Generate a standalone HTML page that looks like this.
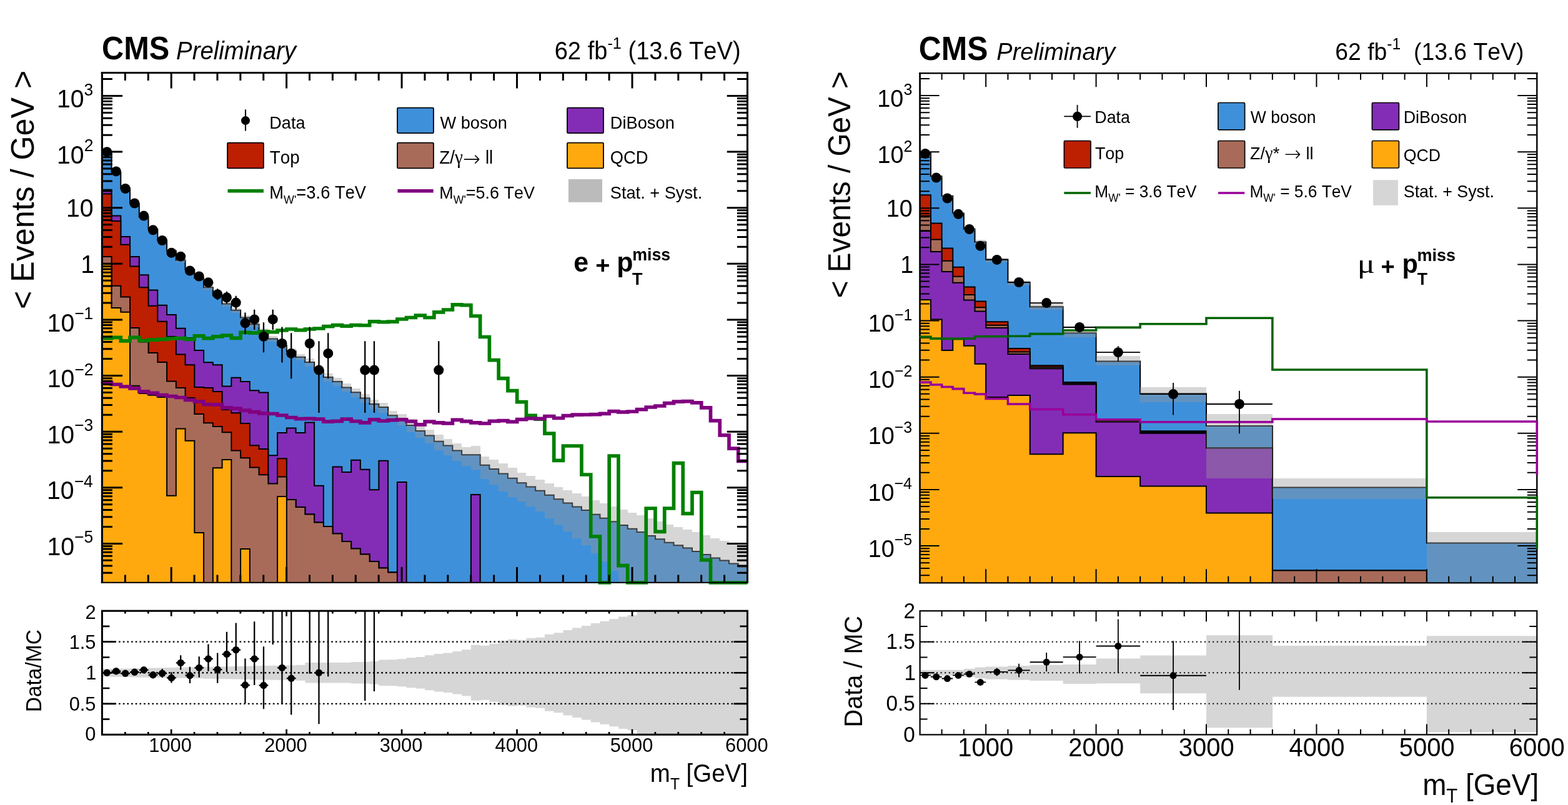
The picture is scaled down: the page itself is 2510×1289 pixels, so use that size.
<!DOCTYPE html>
<html><head><meta charset="utf-8"><title>CMS W' search: transverse mass distributions</title>
<style>html,body{margin:0;padding:0;background:#fff}svg{display:block}text{white-space:pre}</style></head>
<body>
<svg width="2510" height="1289" viewBox="0 0 2510 1289" font-family="'Liberation Sans', sans-serif" fill="#000" stroke-linejoin="miter" style="font-kerning:none" xml:space="preserve">
<rect width="2510" height="1289" fill="#fff"/>
<clipPath id="clipL"><rect x="163.4" y="116.5" width="1033.05" height="817"/></clipPath>
<clipPath id="clipsL"><rect x="159.4" y="116.5" width="1041.05" height="821.5"/></clipPath>
<path d="M163.4 933.8V115" fill="none" stroke="#000" stroke-width="3"/><path d="M1196.45 933.8V115" fill="none" stroke="#000" stroke-width="3"/><path d="M161.9 116.5H1197.95" fill="none" stroke="#000" stroke-width="3"/><path d="M161.9 932.8H1197.95" fill="none" stroke="#000" stroke-width="2"/>
<g clip-path="url(#clipL)">
<path d="M163.8 936L163.8 242.6L178.55 242.6L178.55 275.4L193.31 275.4L193.31 301.6L208.06 301.6L208.06 325.9L222.81 325.9L222.81 347.3L237.56 347.3L237.56 366.9L252.32 366.9L252.32 384.6L267.07 384.6L267.07 401.4L281.82 401.4L281.82 416.5L296.58 416.5L296.58 431.7L311.33 431.7L311.33 445.5L326.08 445.5L326.08 460.2L340.83 460.2L340.83 473.2L355.59 473.2L355.59 486.5L370.34 486.5L370.34 496.8L385.09 496.8L385.09 508.6L399.85 508.6L399.85 519.3L414.6 519.3L414.6 529.9L429.35 529.9L429.35 542.6L444.1 542.6L444.1 553L458.86 553L458.86 562.2L473.61 562.2L473.61 571.8L488.36 571.8L488.36 580L503.12 580L503.12 592.6L517.87 592.6L517.87 603.9L532.62 603.9L532.62 611L547.37 611L547.37 620.4L562.13 620.4L562.13 628.3L576.88 628.3L576.88 637.5L591.63 637.5L591.63 647L606.39 647L606.39 652L621.14 652L621.14 665.2L635.89 665.2L635.89 671L650.65 671L650.65 681L665.4 681L665.4 689.9L680.15 689.9L680.15 697.5L694.9 697.5L694.9 706.7L709.66 706.7L709.66 713.5L724.41 713.5L724.41 721.6L739.16 721.6L739.16 728.3L753.92 728.3L768.67 728.3L768.67 744.7L783.42 744.7L783.42 751L798.17 751L798.17 758.5L812.93 758.5L812.93 765.8L827.68 765.8L827.68 773.3L842.43 773.3L842.43 779.4L857.19 779.4L857.19 785.8L871.94 785.8L871.94 792.8L886.69 792.8L886.69 799.3L901.44 799.3L901.44 805.5L916.2 805.5L916.2 811.6L930.95 811.6L930.95 817.1L945.7 817.1L945.7 823.8L960.46 823.8L960.46 829.7L975.21 829.7L975.21 835.2L989.96 835.2L989.96 841.1L1004.71 841.1L1004.71 846.8L1019.47 846.8L1019.47 852L1034.22 852L1034.22 857.9L1048.97 857.9L1048.97 863.2L1063.73 863.2L1063.73 868.8L1078.48 868.8L1078.48 873.3L1093.23 873.3L1093.23 877.5L1107.98 877.5L1107.98 883L1122.74 883L1122.74 888L1137.49 888L1137.49 893.4L1152.24 893.4L1152.24 897.6L1167 897.6L1167 902.6L1181.75 902.6L1181.75 907.6L1196.5 907.6L1196.5 936Z" fill="#3f90da" stroke="#000" stroke-width="2"/>
<path d="M163.8 936L163.8 303.7L178.55 303.7L178.55 345.6L193.31 345.6L193.31 379L208.06 379L208.06 411L222.81 411L222.81 440.2L237.56 440.2L237.56 464.5L252.32 464.5L252.32 488.8L267.07 488.8L267.07 503.9L281.82 503.9L281.82 525.7L296.58 525.7L296.58 541L311.33 541L311.33 560.9L326.08 560.9L326.08 580.2L340.83 580.2L340.83 584.3L355.59 584.3L355.59 618.5L370.34 618.5L370.34 604.8L385.09 604.8L385.09 611L399.85 611L399.85 625.2L414.6 625.2L414.6 628.6L429.35 628.6L429.35 729.2L444.1 729.2L444.1 693.1L458.86 693.1L458.86 685.6L473.61 685.6L473.61 693L488.36 693L488.36 676.4L503.12 676.4L503.12 777.8L517.87 777.8L517.87 843L532.62 843L532.62 747.6L547.37 747.6L547.37 756L562.13 756L562.13 736.7L576.88 736.7L576.88 751.7L591.63 751.7L591.63 784.3L606.39 784.3L606.39 737.8L621.14 737.8L621.14 916.5L635.89 916.5L635.89 771.9L650.65 771.9L650.65 936L665.4 936L680.15 936L694.9 936L709.66 936L724.41 936L739.16 936L753.92 936L753.92 792L768.67 792L768.67 936L783.42 936L798.17 936L812.93 936L827.68 936L842.43 936L857.19 936L871.94 936L886.69 936L901.44 936L916.2 936L930.95 936L945.7 936L960.46 936L975.21 936L989.96 936L1004.71 936L1019.47 936L1034.22 936L1048.97 936L1063.73 936L1078.48 936L1093.23 936L1107.98 936L1122.74 936L1137.49 936L1152.24 936L1167 936L1181.75 936L1196.5 936Z" fill="#832db6" stroke="#000" stroke-width="2"/>
<path d="M163.8 936L163.8 310.4L178.55 310.4L178.55 354L193.31 354L193.31 391.7L208.06 391.7L208.06 426.5L222.81 426.5L222.81 460.3L237.56 460.3L237.56 489.7L252.32 489.7L252.32 514.8L267.07 514.8L267.07 539L281.82 539L281.82 567.6L296.58 567.6L296.58 584.3L311.33 584.3L311.33 620L326.08 620L326.08 621L340.83 621L340.83 627L355.59 627L355.59 656L370.34 656L370.34 661.3L385.09 661.3L385.09 678L399.85 678L399.85 713.2L414.6 713.2L414.6 719L429.35 719L429.35 774.4L444.1 774.4L444.1 734.2L458.86 734.2L458.86 800L473.61 800L473.61 812L488.36 812L488.36 823.5L503.12 823.5L503.12 836.6L517.87 836.6L517.87 843L532.62 843L532.62 854.5L547.37 854.5L547.37 867L562.13 867L562.13 878.5L576.88 878.5L576.88 887.5L591.63 887.5L591.63 899L606.39 899L606.39 909.5L621.14 909.5L621.14 916.5L635.89 916.5L635.89 936L650.65 936L665.4 936L680.15 936L694.9 936L709.66 936L724.41 936L739.16 936L753.92 936L768.67 936L783.42 936L798.17 936L812.93 936L827.68 936L842.43 936L857.19 936L871.94 936L886.69 936L901.44 936L916.2 936L930.95 936L945.7 936L960.46 936L975.21 936L989.96 936L1004.71 936L1019.47 936L1034.22 936L1048.97 936L1063.73 936L1078.48 936L1093.23 936L1107.98 936L1122.74 936L1137.49 936L1152.24 936L1167 936L1181.75 936L1196.5 936Z" fill="#bd1f01" stroke="#000" stroke-width="2"/>
<path d="M163.8 936L163.8 411L178.55 411L178.55 457.8L193.31 457.8L193.31 475.4L208.06 475.4L208.06 524.9L222.81 524.9L222.81 547.5L237.56 547.5L237.56 565L252.32 565L252.32 580L267.07 580L267.07 610.6L281.82 610.6L281.82 621L296.58 621L296.58 637L311.33 637L311.33 663L326.08 663L326.08 677.2L340.83 677.2L340.83 683L355.59 683L355.59 692.3L370.34 692.3L370.34 721.6L385.09 721.6L385.09 733.3L399.85 733.3L399.85 748.4L414.6 748.4L414.6 760.2L429.35 760.2L429.35 774.4L444.1 774.4L444.1 763.5L458.86 763.5L458.86 800L473.61 800L473.61 812L488.36 812L488.36 823.5L503.12 823.5L503.12 836.6L517.87 836.6L517.87 843L532.62 843L532.62 854.5L547.37 854.5L547.37 867L562.13 867L562.13 878.5L576.88 878.5L576.88 887.5L591.63 887.5L591.63 899L606.39 899L606.39 909.5L621.14 909.5L621.14 916.5L635.89 916.5L635.89 936L650.65 936L665.4 936L680.15 936L694.9 936L709.66 936L724.41 936L739.16 936L753.92 936L768.67 936L783.42 936L798.17 936L812.93 936L827.68 936L842.43 936L857.19 936L871.94 936L886.69 936L901.44 936L916.2 936L930.95 936L945.7 936L960.46 936L975.21 936L989.96 936L1004.71 936L1019.47 936L1034.22 936L1048.97 936L1063.73 936L1078.48 936L1093.23 936L1107.98 936L1122.74 936L1137.49 936L1152.24 936L1167 936L1181.75 936L1196.5 936Z" fill="#a96b59" stroke="#000" stroke-width="2"/>
<path d="M163.8 936L163.8 423L178.55 423L178.55 493L193.31 493L193.31 499.7L208.06 499.7L208.06 617.7L222.81 617.7L222.81 630L237.56 630L237.56 632.8L252.32 632.8L252.32 636L267.07 636L267.07 793.7L281.82 793.7L281.82 686.4L296.58 686.4L296.58 705.7L311.33 705.7L311.33 853L326.08 853L326.08 936L340.83 936L340.83 749.3L355.59 749.3L355.59 735.9L370.34 735.9L370.34 936L385.09 936L385.09 879L399.85 879L399.85 936L414.6 936L429.35 936L444.1 936L444.1 795L458.86 795L458.86 936L473.61 936L488.36 936L503.12 936L517.87 936L532.62 936L547.37 936L562.13 936L576.88 936L591.63 936L606.39 936L621.14 936L635.89 936L650.65 936L665.4 936L680.15 936L694.9 936L709.66 936L724.41 936L739.16 936L753.92 936L768.67 936L783.42 936L798.17 936L812.93 936L827.68 936L842.43 936L857.19 936L871.94 936L886.69 936L901.44 936L916.2 936L930.95 936L945.7 936L960.46 936L975.21 936L989.96 936L1004.71 936L1019.47 936L1034.22 936L1048.97 936L1063.73 936L1078.48 936L1093.23 936L1107.98 936L1122.74 936L1137.49 936L1152.24 936L1167 936L1181.75 936L1196.5 936Z" fill="#ffa90e" stroke="#000" stroke-width="2"/>
<path d="M163.8 240.22H178.55V245.13H163.8ZM178.55 272.91H193.31V278.06H178.55ZM193.31 299H208.06V304.38H193.31ZM208.06 323.19H222.81V328.81H208.06ZM222.81 344.49H237.56V350.33H222.81ZM237.56 363.98H252.32V370.06H237.56ZM252.32 381.6H267.07V387.84H252.32ZM267.07 398.3H281.82V404.77H267.07ZM281.82 413.29H296.58V420H281.82ZM296.58 428.38H311.33V435.33H296.58ZM311.33 442.07H326.08V449.26H311.33ZM326.08 456.67H340.83V464.08H326.08ZM340.83 469.56H355.59V477.21H340.83ZM355.59 482.76H370.34V490.64H355.59ZM370.34 492.95H385.09V501.07H370.34ZM385.09 504.64H399.85V513H385.09ZM399.85 515.24H414.6V523.84H399.85ZM414.6 525.73H429.35V534.57H414.6ZM429.35 538.33H444.1V547.4H429.35ZM444.1 548.62H458.86V557.93H444.1ZM458.86 557.72H473.61V567.26H458.86ZM473.61 567.22H488.36V577H473.61ZM488.36 574.06H503.12V587.02H488.36ZM503.12 586.66H517.87V599.62H503.12ZM517.87 597.96H532.62V610.92H517.87ZM532.62 605.06H547.37V618.02H532.62ZM547.37 614.46H562.13V627.42H547.37ZM562.13 622.02H576.88V635.79H562.13ZM576.88 631.22H591.63V644.99H576.88ZM591.63 640.39H606.39V654.96H591.63ZM606.39 644.58H621.14V661.17H606.39ZM621.14 657.69H635.89V674.52H621.14ZM635.89 663.17H650.65V680.82H635.89ZM650.65 672.53H665.4V691.83H650.65ZM665.4 681.03H680.15V701.41H665.4ZM680.15 687.8H694.9V710.45H680.15ZM694.9 696.34H709.66V720.86H694.9ZM709.66 702.7H724.41V728.51H709.66ZM724.41 710.04H739.16V738.13H724.41ZM739.16 715.96H753.92V746.47H739.16ZM753.92 713.87H768.67V751.5H753.92ZM768.67 730.51H783.42V767.26H768.67ZM783.42 736.01H798.17V775.71H783.42ZM798.17 742.2H812.93V787.06H798.17ZM812.93 749H827.68V796.02H812.93ZM827.68 756.75H842.43V802.68H827.68ZM842.43 762.09H857.19V811.35H842.43ZM857.19 768.25H871.94V818.64H857.19ZM871.94 774.03H886.69V830.46H871.94ZM886.69 779.93H901.44V839.6H886.69ZM901.44 785.08H916.2V851.08H901.44ZM916.2 790.38H930.95V861.84H916.2ZM930.95 795.1H945.7V872.64H930.95ZM945.7 800.93H960.46V886.43H945.7ZM960.46 806.14H975.21V899.12H960.46ZM975.21 810.88H989.96V914.01H975.21ZM989.96 815.98H1004.71V933H989.96ZM1004.71 821.21H1019.47V933H1004.71ZM1019.47 825.02H1034.22V933H1019.47ZM1034.22 830.15H1048.97V933H1034.22ZM1048.97 834.7H1063.73V933H1048.97ZM1063.73 840.3H1078.48V933H1063.73ZM1078.48 843.97H1093.23V933H1078.48ZM1093.23 847.76H1107.98V933H1093.23ZM1107.98 852.26H1122.74V933H1107.98ZM1122.74 856.96H1137.49V933H1122.74ZM1137.49 862.36H1152.24V933H1137.49ZM1152.24 866.16H1167V933H1152.24ZM1167 871.56H1181.75V933H1167ZM1181.75 875.77H1196.5V933H1181.75Z" fill="#999" fill-opacity="0.4" shape-rendering="crispEdges"/>
</g>
<g clip-path="url(#clipsL)" fill="none">
<path d="M161.8 541.6L163.8 541.6L178.55 541.6L178.55 540.4L193.31 540.4L193.31 545.8L208.06 545.8L208.06 540.4L222.81 540.4L222.81 545.5L237.56 545.5L237.56 544.1L252.32 544.1L252.32 543.3L267.07 543.3L267.07 542.1L281.82 542.1L281.82 541.6L296.58 541.6L296.58 543.3L311.33 543.3L311.33 537.8L326.08 537.8L326.08 541.6L340.83 541.6L340.83 538.8L355.59 538.8L355.59 537.1L370.34 537.1L370.34 541.3L385.09 541.3L385.09 532.4L399.85 532.4L399.85 533.2L414.6 533.2L414.6 530.8L429.35 530.8L429.35 531.6L444.1 531.6L444.1 529L458.86 529L458.86 527L473.61 527L473.61 528.6L488.36 528.6L488.36 527L503.12 527L503.12 526L517.87 526L517.87 522.7L532.62 522.7L532.62 520.6L547.37 520.6L547.37 522.2L562.13 522.2L562.13 520.6L576.88 520.6L576.88 521L591.63 521L591.63 514.9L606.39 514.9L606.39 515.7L621.14 515.7L621.14 515.2L635.89 515.2L635.89 511L650.65 511L650.65 508.5L665.4 508.5L665.4 505.1L680.15 505.1L680.15 508.5L694.9 508.5L694.9 499.8L709.66 499.8L709.66 496L724.41 496L724.41 487.9L739.16 487.9L739.16 488.7L753.92 488.7L753.92 506L768.67 506L768.67 539.5L783.42 539.5L783.42 576.7L798.17 576.7L798.17 605.9L812.93 605.9L812.93 625.6L827.68 625.6L827.68 643.6L842.43 643.6L842.43 665.4L857.19 665.4L857.19 671.2L871.94 671.2L871.94 694.2L886.69 694.2L886.69 737.4L901.44 737.4L901.44 714L930.95 714L930.95 760L945.7 760L945.7 859L960.46 859L960.46 933L975.21 933L975.21 730L989.96 730L989.96 905.7L1004.71 905.7L1004.71 933L1034.22 933L1034.22 814L1048.97 814L1048.97 851.4L1063.73 851.4L1063.73 814L1078.48 814L1078.48 741.6L1093.23 741.6L1093.23 822.3L1107.98 822.3L1107.98 788.5L1122.74 788.5L1122.74 896.7L1137.49 896.7L1137.49 933L1196.5 933" stroke="#008000" stroke-width="5.7"/>
<path d="M161.8 612.7L163.8 612.7L178.55 612.7L178.55 615.5L193.31 615.5L193.31 619L208.06 619L208.06 621.9L222.81 621.9L222.81 626.9L237.56 626.9L237.56 629.4L252.32 629.4L252.32 632.5L267.07 632.5L267.07 634.5L281.82 634.5L281.82 636.5L296.58 636.5L296.58 640.3L311.33 640.3L311.33 643.2L326.08 643.2L326.08 647.5L340.83 647.5L340.83 647.9L355.59 647.9L355.59 652.9L370.34 652.9L370.34 654.2L385.09 654.2L385.09 657.1L399.85 657.1L399.85 659.6L414.6 659.6L414.6 661.8L429.35 661.8L429.35 662.5L444.1 662.5L444.1 665L458.86 665L458.86 668.5L473.61 668.5L473.61 670.7L488.36 670.7L488.36 670.3L503.12 670.3L503.12 671.2L517.87 671.2L517.87 675.1L532.62 675.1L532.62 674.4L547.37 674.4L547.37 671.1L562.13 671.1L562.13 674.5L576.88 674.5L576.88 676.9L591.63 676.9L591.63 671.9L606.39 671.9L606.39 674L621.14 674L621.14 672.7L635.89 672.7L635.89 671.9L650.65 671.9L650.65 674.7L665.4 674.7L665.4 679.8L680.15 679.8L680.15 675.2L694.9 675.2L694.9 676.9L709.66 676.9L709.66 677.8L724.41 677.8L724.41 672.4L739.16 672.4L739.16 674.7L753.92 674.7L753.92 676.9L768.67 676.9L768.67 678L783.42 678L783.42 674.3L798.17 674.3L798.17 673.7L812.93 673.7L812.93 675.4L827.68 675.4L827.68 671.7L842.43 671.7L842.43 670L857.19 670L857.19 670.4L871.94 670.4L871.94 666.5L886.69 666.5L886.69 669.5L901.44 669.5L901.44 665.7L916.2 665.7L916.2 664.2L930.95 664.2L930.95 664L945.7 664L945.7 663.7L960.46 663.7L960.46 662.3L975.21 662.3L975.21 658.7L989.96 658.7L989.96 659.8L1004.71 659.8L1004.71 659L1019.47 659L1019.47 655.6L1034.22 655.6L1034.22 652L1048.97 652L1048.97 650L1063.73 650L1063.73 645.7L1078.48 645.7L1078.48 643.2L1093.23 643.2L1093.23 642.7L1107.98 642.7L1107.98 644.9L1122.74 644.9L1122.74 652.8L1137.49 652.8L1137.49 673.7L1152.24 673.7L1152.24 696.9L1167 696.9L1167 718.1L1181.75 718.1L1181.75 738.3L1196.5 738.3" stroke="#800080" stroke-width="5.7"/>
</g>
<path d="M163.4 917.24h16.5M1196.45 917.24h-16.5M163.4 906.04h16.5M1196.45 906.04h-16.5M163.4 897.36h16.5M1196.45 897.36h-16.5M163.4 890.26h16.5M1196.45 890.26h-16.5M163.4 884.26h16.5M1196.45 884.26h-16.5M163.4 879.06h16.5M1196.45 879.06h-16.5M163.4 874.48h16.5M1196.45 874.48h-16.5M163.4 870.38h32.7M1196.45 870.38h-32.7M163.4 843.4h16.5M1196.45 843.4h-16.5M163.4 827.63h16.5M1196.45 827.63h-16.5M163.4 816.43h16.5M1196.45 816.43h-16.5M163.4 807.75h16.5M1196.45 807.75h-16.5M163.4 800.65h16.5M1196.45 800.65h-16.5M163.4 794.65h16.5M1196.45 794.65h-16.5M163.4 789.45h16.5M1196.45 789.45h-16.5M163.4 784.87h16.5M1196.45 784.87h-16.5M163.4 780.77h32.7M1196.45 780.77h-32.7M163.4 753.79h16.5M1196.45 753.79h-16.5M163.4 738.02h16.5M1196.45 738.02h-16.5M163.4 726.82h16.5M1196.45 726.82h-16.5M163.4 718.14h16.5M1196.45 718.14h-16.5M163.4 711.04h16.5M1196.45 711.04h-16.5M163.4 705.04h16.5M1196.45 705.04h-16.5M163.4 699.84h16.5M1196.45 699.84h-16.5M163.4 695.26h16.5M1196.45 695.26h-16.5M163.4 691.16h32.7M1196.45 691.16h-32.7M163.4 664.18h16.5M1196.45 664.18h-16.5M163.4 648.41h16.5M1196.45 648.41h-16.5M163.4 637.21h16.5M1196.45 637.21h-16.5M163.4 628.53h16.5M1196.45 628.53h-16.5M163.4 621.43h16.5M1196.45 621.43h-16.5M163.4 615.43h16.5M1196.45 615.43h-16.5M163.4 610.23h16.5M1196.45 610.23h-16.5M163.4 605.65h16.5M1196.45 605.65h-16.5M163.4 601.55h32.7M1196.45 601.55h-32.7M163.4 574.57h16.5M1196.45 574.57h-16.5M163.4 558.8h16.5M1196.45 558.8h-16.5M163.4 547.6h16.5M1196.45 547.6h-16.5M163.4 538.92h16.5M1196.45 538.92h-16.5M163.4 531.82h16.5M1196.45 531.82h-16.5M163.4 525.82h16.5M1196.45 525.82h-16.5M163.4 520.62h16.5M1196.45 520.62h-16.5M163.4 516.04h16.5M1196.45 516.04h-16.5M163.4 511.94h32.7M1196.45 511.94h-32.7M163.4 484.96h16.5M1196.45 484.96h-16.5M163.4 469.19h16.5M1196.45 469.19h-16.5M163.4 457.99h16.5M1196.45 457.99h-16.5M163.4 449.31h16.5M1196.45 449.31h-16.5M163.4 442.21h16.5M1196.45 442.21h-16.5M163.4 436.21h16.5M1196.45 436.21h-16.5M163.4 431.01h16.5M1196.45 431.01h-16.5M163.4 426.43h16.5M1196.45 426.43h-16.5M163.4 422.33h32.7M1196.45 422.33h-32.7M163.4 395.35h16.5M1196.45 395.35h-16.5M163.4 379.58h16.5M1196.45 379.58h-16.5M163.4 368.38h16.5M1196.45 368.38h-16.5M163.4 359.7h16.5M1196.45 359.7h-16.5M163.4 352.6h16.5M1196.45 352.6h-16.5M163.4 346.6h16.5M1196.45 346.6h-16.5M163.4 341.4h16.5M1196.45 341.4h-16.5M163.4 336.82h16.5M1196.45 336.82h-16.5M163.4 332.72h32.7M1196.45 332.72h-32.7M163.4 305.74h16.5M1196.45 305.74h-16.5M163.4 289.97h16.5M1196.45 289.97h-16.5M163.4 278.77h16.5M1196.45 278.77h-16.5M163.4 270.09h16.5M1196.45 270.09h-16.5M163.4 262.99h16.5M1196.45 262.99h-16.5M163.4 256.99h16.5M1196.45 256.99h-16.5M163.4 251.79h16.5M1196.45 251.79h-16.5M163.4 247.21h16.5M1196.45 247.21h-16.5M163.4 243.11h32.7M1196.45 243.11h-32.7M163.4 216.13h16.5M1196.45 216.13h-16.5M163.4 200.36h16.5M1196.45 200.36h-16.5M163.4 189.16h16.5M1196.45 189.16h-16.5M163.4 180.48h16.5M1196.45 180.48h-16.5M163.4 173.38h16.5M1196.45 173.38h-16.5M163.4 167.38h16.5M1196.45 167.38h-16.5M163.4 162.18h16.5M1196.45 162.18h-16.5M163.4 157.6h16.5M1196.45 157.6h-16.5M163.4 153.5h32.7M1196.45 153.5h-32.7M163.4 126.52h16.5M1196.45 126.52h-16.5M200.39 933v-12.5M200.39 116.5v12.5M237.28 933v-12.5M237.28 116.5v12.5M274.18 933v-25M274.18 116.5v25M311.07 933v-12.5M311.07 116.5v12.5M347.96 933v-12.5M347.96 116.5v12.5M384.85 933v-12.5M384.85 116.5v12.5M421.74 933v-12.5M421.74 116.5v12.5M458.64 933v-25M458.64 116.5v25M495.53 933v-12.5M495.53 116.5v12.5M532.42 933v-12.5M532.42 116.5v12.5M569.31 933v-12.5M569.31 116.5v12.5M606.2 933v-12.5M606.2 116.5v12.5M643.1 933v-25M643.1 116.5v25M679.99 933v-12.5M679.99 116.5v12.5M716.88 933v-12.5M716.88 116.5v12.5M753.77 933v-12.5M753.77 116.5v12.5M790.66 933v-12.5M790.66 116.5v12.5M827.56 933v-25M827.56 116.5v25M864.45 933v-12.5M864.45 116.5v12.5M901.34 933v-12.5M901.34 116.5v12.5M938.23 933v-12.5M938.23 116.5v12.5M975.12 933v-12.5M975.12 116.5v12.5M1012.02 933v-25M1012.02 116.5v25M1048.91 933v-12.5M1048.91 116.5v12.5M1085.8 933v-12.5M1085.8 116.5v12.5M1122.69 933v-12.5M1122.69 116.5v12.5M1159.58 933v-12.5M1159.58 116.5v12.5" stroke="#000" stroke-width="3" fill="none"/>
<path d="M163.4 933.8V115" fill="none" stroke="#000" stroke-width="3"/><path d="M1196.45 933.8V115" fill="none" stroke="#000" stroke-width="3"/><path d="M161.9 116.5H1197.95" fill="none" stroke="#000" stroke-width="3"/><path d="M161.9 932.8H1197.95" fill="none" stroke="#000" stroke-width="2"/>
<path d="M171.18 242.76V243.64M185.93 273.74V275.06M200.68 301.06V302.94M215.44 324.22V326.78M230.19 343.94V347.27M244.94 366.06V370.55M259.69 382.21V387.8M274.45 401.16V408.46M289.2 406.77V414.65M303.95 428.13V438.91M318.71 436.45V448.61M333.46 445.44V459.25M348.21 462.36V480.22M362.96 466.78V486.05M377.72 473.87V495.66M392.47 500.53V535.2M407.22 495.8V527.93M421.98 516.13V564.14M436.73 495.8V527.93M451.48 523.56V580.57M466.23 533.17V606.3M495.74 523.56V580.57M510.49 546.15V660.92M525.25 533.17V606.3M584.26 546.15V660.92M599.01 546.15V660.92M702.28 546.15V660.92" stroke="#000" stroke-width="2.3" fill="none"/>
<g fill="#000"><circle cx="171.18" cy="243.2" r="8"/><circle cx="185.93" cy="274.4" r="8"/><circle cx="200.68" cy="302" r="8"/><circle cx="215.44" cy="325.5" r="8"/><circle cx="230.19" cy="345.6" r="8"/><circle cx="244.94" cy="368.3" r="8"/><circle cx="259.69" cy="385" r="8"/><circle cx="274.45" cy="404.8" r="8"/><circle cx="289.2" cy="410.7" r="8"/><circle cx="303.95" cy="433.5" r="8"/><circle cx="318.71" cy="442.5" r="8"/><circle cx="333.46" cy="452.3" r="8"/><circle cx="348.21" cy="471.2" r="8"/><circle cx="362.96" cy="476.3" r="8"/><circle cx="377.72" cy="484.6" r="8"/><circle cx="392.47" cy="517.3" r="8"/><circle cx="407.22" cy="511.4" r="8"/><circle cx="421.98" cy="538.8" r="8"/><circle cx="436.73" cy="511.4" r="8"/><circle cx="451.48" cy="550" r="8"/><circle cx="466.23" cy="565.9" r="8"/><circle cx="495.74" cy="550" r="8"/><circle cx="510.49" cy="592.6" r="8"/><circle cx="525.25" cy="565.9" r="8"/><circle cx="584.26" cy="592.6" r="8"/><circle cx="599.01" cy="592.6" r="8"/><circle cx="702.28" cy="592.6" r="8"/></g>
<clipPath id="cliprL"><rect x="163.4" y="978.2" width="1033.05" height="198.1"/></clipPath>
<g clip-path="url(#cliprL)">
<path d="M163.8 1071.01H178.85V1083.49H163.8ZM178.55 1070.71H193.61V1083.79H178.55ZM193.31 1070.42H208.36V1084.08H193.31ZM208.06 1070.12H223.11V1084.38H208.06ZM222.81 1069.82H237.86V1084.68H222.81ZM237.56 1069.52H252.62V1084.98H237.56ZM252.32 1069.33H267.37V1085.17H252.32ZM267.07 1069.03H282.12V1085.47H267.07ZM281.82 1068.73H296.88V1085.77H281.82ZM296.58 1068.43H311.63V1086.07H296.58ZM311.33 1068.14H326.38V1086.36H311.33ZM326.08 1067.84H341.13V1086.66H326.08ZM340.83 1067.54H355.89V1086.96H340.83ZM355.59 1067.25H370.64V1087.25H355.59ZM370.34 1066.95H385.39V1087.55H370.34ZM385.09 1066.65H400.15V1087.85H385.09ZM399.85 1066.35H414.9V1088.15H399.85ZM414.6 1066.06H429.65V1088.44H414.6ZM429.35 1065.76H444.4V1088.74H429.35ZM444.1 1065.46H459.16V1089.04H444.1ZM458.86 1065.17H473.91V1089.33H458.86ZM473.61 1064.87H488.66V1089.63H473.61ZM488.36 1060.91H503.42V1093.59H488.36ZM503.12 1060.91H518.17V1093.59H503.12ZM517.87 1060.91H532.92V1093.59H517.87ZM532.62 1060.91H547.67V1093.59H532.62ZM547.37 1060.91H562.43V1093.59H547.37ZM562.13 1059.92H577.18V1094.58H562.13ZM576.88 1059.92H591.93V1094.58H576.88ZM591.63 1058.93H606.69V1095.57H591.63ZM606.39 1056.45H621.44V1098.05H606.39ZM621.14 1056.15H636.19V1098.35H621.14ZM635.89 1055.16H650.95V1099.34H635.89ZM650.65 1053.18H665.7V1101.32H650.65ZM665.4 1051.89H680.45V1102.61H665.4ZM680.15 1049.22H695.2V1105.28H680.15ZM694.9 1047.04H709.96V1107.46H694.9ZM709.66 1045.55H724.71V1108.95H709.66ZM724.41 1042.98H739.46V1111.52H724.41ZM739.16 1040.3H754.22V1114.2H739.16ZM753.92 1032.78H768.97V1121.72H753.92ZM768.67 1033.67H783.72V1120.83H768.67ZM783.42 1030.7H798.47V1123.8H783.42ZM798.17 1025.74H813.23V1128.76H798.17ZM812.93 1023.76H827.98V1130.74H812.93ZM827.68 1024.75H842.73V1129.75H827.68ZM842.43 1021.78H857.49V1132.72H842.43ZM857.19 1020.79H872.24V1133.71H857.19ZM871.94 1015.84H886.99V1138.66H871.94ZM886.69 1013.36H901.74V1141.14H886.69ZM901.44 1008.91H916.5V1145.59H901.44ZM916.2 1005.44H931.25V1149.06H916.2ZM930.95 1001.97H946V1152.53H930.95ZM945.7 998.01H960.76V1156.49H945.7ZM960.46 994.84H975.51V1159.66H960.46ZM975.21 991.27H990.26V1163.23H975.21ZM989.96 987.41H1005.01V1167.09H989.96ZM1004.71 985.13H1019.77V1169.37H1004.71ZM1019.47 978.2H1034.52V1176.3H1019.47ZM1034.22 974.24H1049.27V1180.26H1034.22ZM1048.97 973.25H1064.03V1181.25H1048.97ZM1063.73 973.25H1078.78V1181.25H1063.73ZM1078.48 973.25H1093.53V1181.25H1078.48ZM1093.23 973.25H1108.28V1181.25H1093.23ZM1107.98 973.25H1123.04V1181.25H1107.98ZM1122.74 973.25H1137.79V1181.25H1122.74ZM1137.49 973.25H1152.54V1181.25H1137.49ZM1152.24 973.25H1167.3V1181.25H1152.24ZM1167 973.25H1182.05V1181.25H1167ZM1181.75 973.25H1196.8V1181.25H1181.75Z" fill="#d6d6d6"/>
<path d="M163.4 1126.78H1196.45" stroke="#000" stroke-width="2.3" stroke-dasharray="2.6 4.07" fill="none"/>
<path d="M163.4 1077.25H1196.45" stroke="#000" stroke-width="2.3" stroke-dasharray="2.6 4.07" fill="none"/>
<path d="M163.4 1027.72H1196.45" stroke="#000" stroke-width="2.3" stroke-dasharray="2.6 4.07" fill="none"/>
</g>
<path d="M163.4 1151.54h12M1196.45 1151.54h-12M163.4 1126.78h22M1196.45 1126.78h-22M163.4 1102.01h12M1196.45 1102.01h-12M163.4 1077.25h22M1196.45 1077.25h-22M163.4 1052.49h12M1196.45 1052.49h-12M163.4 1027.72h22M1196.45 1027.72h-22M163.4 1002.96h12M1196.45 1002.96h-12M200.39 1176.3v-4.3M200.39 978.2v4.3M237.28 1176.3v-4.3M237.28 978.2v4.3M274.18 1176.3v-8.5M274.18 978.2v8.5M311.07 1176.3v-4.3M311.07 978.2v4.3M347.96 1176.3v-4.3M347.96 978.2v4.3M384.85 1176.3v-4.3M384.85 978.2v4.3M421.74 1176.3v-4.3M421.74 978.2v4.3M458.64 1176.3v-8.5M458.64 978.2v8.5M495.53 1176.3v-4.3M495.53 978.2v4.3M532.42 1176.3v-4.3M532.42 978.2v4.3M569.31 1176.3v-4.3M569.31 978.2v4.3M606.2 1176.3v-4.3M606.2 978.2v4.3M643.1 1176.3v-8.5M643.1 978.2v8.5M679.99 1176.3v-4.3M679.99 978.2v4.3M716.88 1176.3v-4.3M716.88 978.2v4.3M753.77 1176.3v-4.3M753.77 978.2v4.3M790.66 1176.3v-4.3M790.66 978.2v4.3M827.56 1176.3v-8.5M827.56 978.2v8.5M864.45 1176.3v-4.3M864.45 978.2v4.3M901.34 1176.3v-4.3M901.34 978.2v4.3M938.23 1176.3v-4.3M938.23 978.2v4.3M975.12 1176.3v-4.3M975.12 978.2v4.3M1012.02 1176.3v-8.5M1012.02 978.2v8.5M1048.91 1176.3v-4.3M1048.91 978.2v4.3M1085.8 1176.3v-4.3M1085.8 978.2v4.3M1122.69 1176.3v-4.3M1122.69 978.2v4.3M1159.58 1176.3v-4.3M1159.58 978.2v4.3" stroke="#000" stroke-width="2.7" fill="none"/>
<g clip-path="url(#cliprL)">
<path d="M171.18 1076.12V1078.36M163.78 1077.25H178.58M185.93 1073.04V1076.48M178.53 1074.77H193.33M200.68 1075.84V1080.59M193.28 1078.24H208.08M215.44 1072.92V1079.5M208.04 1076.26H222.84M230.19 1068.27V1077.13M222.79 1072.79H237.59M244.94 1075.15V1086.17M237.54 1080.82H252.34M259.69 1070.94V1085.05M252.29 1078.24H267.09M274.45 1076.56V1093.62M267.05 1085.47H281.85M289.2 1049.19V1072.49M281.8 1061.4H296.6M303.95 1067.72V1093.99M296.55 1081.71H311.35M318.71 1051.34V1084.87M311.31 1069.33H326.11M333.46 1031.56V1074.82M326.06 1054.96H340.86M348.21 1045.53V1093.66M340.81 1072.1H355.61M362.96 1011.83V1076.08M355.56 1047.54H370.36M377.72 997.5V1074.16M370.32 1040.6H385.12M392.47 1054.39V1126.28M385.07 1097.06H399.87M407.22 995.14V1096.95M399.82 1054.96H414.62M421.98 1035.13V1135.18M414.58 1097.46H429.38M436.73 968.3V1031.89M451.48 968.3V1127.54M444.08 1069.33H458.88M466.23 968.3V1144.38M458.83 1086.16H473.63M495.74 968.3V1078.7M510.49 968.3V1159.18M503.09 1077.25H517.89M525.25 968.3V1083.17M584.26 968.3V1122.04M599.01 968.3V1107.04M702.28 968.3V855.15" stroke="#000" stroke-width="2.3" fill="none"/>
<g fill="#000"><circle cx="171.18" cy="1077.25" r="5.7"/><circle cx="185.93" cy="1074.77" r="5.7"/><circle cx="200.68" cy="1078.24" r="5.7"/><circle cx="215.44" cy="1076.26" r="5.7"/><circle cx="230.19" cy="1072.79" r="5.7"/><circle cx="244.94" cy="1080.82" r="5.7"/><circle cx="259.69" cy="1078.24" r="5.7"/><circle cx="274.45" cy="1085.47" r="5.7"/><circle cx="289.2" cy="1061.4" r="5.7"/><circle cx="303.95" cy="1081.71" r="5.7"/><circle cx="318.71" cy="1069.33" r="5.7"/><circle cx="333.46" cy="1054.96" r="5.7"/><circle cx="348.21" cy="1072.1" r="5.7"/><circle cx="362.96" cy="1047.54" r="5.7"/><circle cx="377.72" cy="1040.6" r="5.7"/><circle cx="392.47" cy="1097.06" r="5.7"/><circle cx="407.22" cy="1054.96" r="5.7"/><circle cx="421.98" cy="1097.46" r="5.7"/><circle cx="451.48" cy="1069.33" r="5.7"/><circle cx="466.23" cy="1086.16" r="5.7"/><circle cx="510.49" cy="1077.25" r="5.7"/></g>
</g>
<rect x="163.4" y="978.2" width="1033.05" height="198.1" fill="none" stroke="#000" stroke-width="3"/>
<rect x="636.1" y="172.7" width="57.9" height="40.5" rx="1.5" fill="#3f90da" stroke="#000" stroke-width="1.8"/>
<rect x="908" y="172.7" width="58" height="40.5" rx="1.5" fill="#832db6" stroke="#000" stroke-width="1.8"/>
<rect x="364.1" y="228.6" width="57.8" height="40.8" rx="1.5" fill="#bd1f01" stroke="#000" stroke-width="1.8"/>
<rect x="636.1" y="228.6" width="57.9" height="40.8" rx="1.5" fill="#a96b59" stroke="#000" stroke-width="1.8"/>
<rect x="908" y="228.6" width="58" height="40.8" rx="1.5" fill="#ffa90e" stroke="#000" stroke-width="1.8"/>
<rect x="910" y="287" width="54" height="36.8" fill="#bbb"/>
<path d="M364.5 305.7H421.9" stroke="#008000" stroke-width="5.4"/>
<path d="M636.5 305.7H693.7" stroke="#800080" stroke-width="5.4"/>
<path d="M393 175.4V209.6" stroke="#000" stroke-width="2.1"/><circle cx="393" cy="193.1" r="7"/>
<text transform="translate(75.41 889.08) scale(0.9569 1)" font-size="40.96">10<tspan font-size="27.59" dy="-19.7">−5</tspan></text>
<text transform="translate(75.07 799.47) scale(0.9569 1)" font-size="40.96">10<tspan font-size="27.59" dy="-19.7">−4</tspan></text>
<text transform="translate(75.46 709.86) scale(0.9569 1)" font-size="40.96">10<tspan font-size="27.59" dy="-19.7">−3</tspan></text>
<text transform="translate(75.63 620.25) scale(0.9569 1)" font-size="40.96">10<tspan font-size="27.59" dy="-19.7">−2</tspan></text>
<text transform="translate(75.59 530.64) scale(0.9569 1)" font-size="40.96">10<tspan font-size="27.59" dy="-19.7">−1</tspan></text>
<text transform="translate(129.31 436.83) scale(0.9569 1)" font-size="40.96">1</text>
<text transform="translate(105.93 347.22) scale(0.9569 1)" font-size="40.96">10</text>
<text transform="translate(91.04 261.81) scale(0.9569 1)" font-size="40.96">10<tspan font-size="27.59" dy="-19.7">2</tspan></text>
<text transform="translate(90.88 172.2) scale(0.9569 1)" font-size="40.96">10<tspan font-size="27.59" dy="-19.7">3</tspan></text>
<text transform="translate(54.05 494.98) rotate(-90) scale(0.9569 1)" font-size="52.46">&lt; Events / GeV &gt;</text>
<text transform="translate(136.27 1186.2) scale(0.9569 1)" font-size="32.19">0</text>
<text transform="translate(110.68 1137.58) scale(0.9569 1)" font-size="32.19">0.5</text>
<text transform="translate(137.37 1088.45) scale(0.9569 1)" font-size="32.19">1</text>
<text transform="translate(110.68 1038.72) scale(0.9569 1)" font-size="32.19">1.5</text>
<text transform="translate(136.62 990.5) scale(0.9569 1)" font-size="32.19">2</text>
<text transform="translate(238.35 1204.2) scale(0.9569 1)" font-size="32.19">1000</text>
<text transform="translate(423.2 1204.2) scale(0.9569 1)" font-size="32.19">2000</text>
<text transform="translate(607.85 1204.2) scale(0.9569 1)" font-size="32.19">3000</text>
<text transform="translate(792.55 1204.2) scale(0.9569 1)" font-size="32.19">4000</text>
<text transform="translate(976.74 1204.2) scale(0.9569 1)" font-size="32.19">5000</text>
<text transform="translate(1161.04 1204.2) scale(0.9569 1)" font-size="32.19">6000</text>
<text transform="translate(66.4 1140.35) rotate(-90) scale(0.9569 1)" font-size="35.02">Data/MC</text>
<text transform="translate(1040.85 1251.8) scale(0.9569 1)" font-size="40.19">m<tspan font-size="25.72" dy="11.9">T</tspan><tspan dy="-11.9"> [GeV]</tspan></text>
<text transform="translate(163 95.3) scale(0.9434 1)" font-size="51.61"><tspan font-weight="bold">CMS</tspan></text>
<text transform="translate(282.02 95.3) scale(0.9569 1)" font-size="40.13"><tspan font-style="italic">Preliminary</tspan></text>
<text transform="translate(887.66 94.9) scale(0.9569 1)" font-size="39.85">62 fb<tspan font-size="26.3" dy="-17.2">-1</tspan><tspan dy="17.2"> (13.6 TeV)</tspan></text>
<text transform="translate(431.27 206) scale(0.9569 1)" font-size="28.36">Data</text>
<text transform="translate(431.78 261.9) scale(0.9569 1)" font-size="29.04">Top</text>
<text transform="translate(704.38 206) scale(0.9569 1)" font-size="28.49">W boson</text>
<text transform="translate(976.66 206) scale(0.9569 1)" font-size="28.54">DiBoson</text>
<text transform="translate(976.7 261.9) scale(0.9569 1)" font-size="28.59">QCD</text>
<text transform="translate(976.76 318.2) scale(0.9569 1)" font-size="28.45">Stat. + Syst.</text>
<text transform="translate(431.26 318.2) scale(0.9569 1)" font-size="28.58">M<tspan font-size="18.72" dy="7.3">W'</tspan><tspan dy="-7.3">=3.6 TeV</tspan></text>
<text transform="translate(703.29 318.2) scale(0.9569 1)" font-size="28.21">M<tspan font-size="18.48" dy="7.3">W'</tspan><tspan dy="-7.3">=5.6 TeV</tspan></text>
<text transform="translate(703.31 261.9) scale(0.9569 1)" font-size="29.19">Z/<tspan font-family="'Liberation Serif', 'DejaVu Serif', serif" font-size="30.65">γ</tspan><tspan font-family="'DejaVu Sans', 'Liberation Sans', sans-serif" font-weight="200" font-size="35.03" dy="3.6">→</tspan><tspan dy="-3.6"> ll</tspan></text>
<text transform="translate(918.23 434.6) scale(0.9709 1)" font-size="44.15"><tspan font-weight="bold">e</tspan></text>
<text transform="translate(953.33 438) scale(1.0000 1)" font-size="39.68"><tspan font-weight="bold">+</tspan></text>
<text transform="translate(987.17 434.6) scale(0.9709 1)" font-size="44.15"><tspan font-weight="bold">p</tspan></text>
<text transform="translate(1012.13 416.8) scale(0.9709 1)" font-size="27.59"><tspan font-weight="bold">miss</tspan></text>
<text transform="translate(1011.9 455.7) scale(0.9524 1)" font-size="28.35"><tspan font-weight="bold">T</tspan></text>
<clipPath id="clipR"><rect x="1472.6" y="117.2" width="987.7" height="816.6"/></clipPath>
<clipPath id="clipsR"><rect x="1468.6" y="117.2" width="995.7" height="821.1"/></clipPath>
<path d="M1472.6 934.35V116.15" fill="none" stroke="#000" stroke-width="2.3"/><path d="M2460.3 934.35V116.15" fill="none" stroke="#000" stroke-width="2"/><path d="M1471.45 117.2H2461.3" fill="none" stroke="#000" stroke-width="2.1"/><path d="M1471.45 933.3H2461.3" fill="none" stroke="#000" stroke-width="2.1"/>
<g clip-path="url(#clipR)">
<path d="M1472.3 936.3L1472.3 244.8L1489.94 244.8L1489.94 282.2L1507.59 282.2L1507.59 313.8L1525.23 313.8L1525.23 341.5L1542.87 341.5L1542.87 366.8L1560.51 366.8L1560.51 387.5L1578.16 387.5L1578.16 415.6L1613.44 415.6L1613.44 452.3L1648.73 452.3L1648.73 491.3L1701.66 491.3L1701.66 533.2L1754.59 533.2L1754.59 578.5L1825.16 578.5L1825.16 630.3L1931.01 630.3L1931.01 681.9L2036.87 681.9L2036.87 780.4L2283.87 780.4L2283.87 869.6L2460.3 869.6L2460.3 936.3Z" fill="#3f90da" stroke="#000" stroke-width="2"/>
<path d="M1472.3 936.3L1472.3 312.2L1489.94 312.2L1489.94 357.4L1507.59 357.4L1507.59 397.6L1525.23 397.6L1525.23 427.7L1542.87 427.7L1542.87 459.5L1560.51 459.5L1560.51 482.6L1578.16 482.6L1578.16 515.3L1613.44 515.3L1613.44 557.9L1648.73 557.9L1648.73 585.2L1701.66 585.2L1701.66 612L1754.59 612L1754.59 671L1825.16 671L1825.16 690.3L1931.01 690.3L1931.01 717.6L2036.87 717.6L2036.87 913.4L2283.87 913.4L2283.87 936.3L2460.3 936.3Z" fill="#bd1f01" stroke="#000" stroke-width="2"/>
<path d="M1472.3 936.3L1472.3 345.7L1489.94 345.7L1489.94 383.4L1507.59 383.4L1507.59 417.7L1525.23 417.7L1525.23 442.7L1542.87 442.7L1542.87 472L1560.51 472L1560.51 492.2L1578.16 492.2L1578.16 520.7L1613.44 520.7L1613.44 563.4L1648.73 563.4L1648.73 587.7L1701.66 587.7L1701.66 613.7L1754.59 613.7L1754.59 673L1825.16 673L1825.16 692L1931.01 692L1931.01 717.6L2036.87 717.6L2036.87 913.4L2283.87 913.4L2283.87 936.3L2460.3 936.3Z" fill="#a96b59" stroke="#000" stroke-width="2"/>
<path d="M1472.3 936.3L1472.3 370L1489.94 370L1489.94 403L1507.59 403L1507.59 435L1525.23 435L1525.23 452.8L1542.87 452.8L1542.87 480.4L1560.51 480.4L1560.51 498.5L1578.16 498.5L1578.16 524.9L1613.44 524.9L1613.44 567.1L1648.73 567.1L1648.73 590.2L1701.66 590.2L1701.66 615.4L1754.59 615.4L1754.59 675.5L1825.16 675.5L1825.16 693.8L1931.01 693.8L1931.01 717.6L2036.87 717.6L2036.87 936.3L2283.87 936.3L2460.3 936.3Z" fill="#832db6" stroke="#000" stroke-width="2"/>
<path d="M1472.3 936.3L1472.3 480.1L1489.94 480.1L1489.94 511.4L1507.59 511.4L1507.59 560.9L1525.23 560.9L1525.23 543.3L1542.87 543.3L1542.87 553.8L1560.51 553.8L1560.51 582.7L1578.16 582.7L1578.16 636L1613.44 636L1613.44 633L1648.73 633L1648.73 727.3L1701.66 727.3L1701.66 693.2L1754.59 693.2L1754.59 763L1825.16 763L1825.16 778.5L1931.01 778.5L1931.01 821.5L2036.87 821.5L2036.87 936.3L2283.87 936.3L2460.3 936.3Z" fill="#ffa90e" stroke="#000" stroke-width="2"/>
<path d="M1472.3 246H1489.94V249.5H1472.3ZM1489.94 281.8H1507.59V285.3H1489.94ZM1507.59 313.2H1525.23V317H1507.59ZM1525.23 339.7H1542.87V343.4H1525.23ZM1542.87 364.5H1560.51V369.3H1542.87ZM1560.51 384.3H1578.16V391H1560.51ZM1578.16 412.6H1613.44V419.5H1578.16ZM1613.44 448.5H1648.73V457H1613.44ZM1648.73 485.1H1701.66V496.4H1648.73ZM1701.66 529H1754.59V540H1701.66ZM1754.59 570.1H1825.16V585.2H1754.59ZM1825.16 619.5H1931.01V644H1825.16ZM1931.01 663.3H2036.87V766H1931.01ZM2036.87 766H2283.87V799H2036.87ZM2283.87 852.1H2460.3V933H2283.87Z" fill="#999" fill-opacity="0.4" shape-rendering="crispEdges"/>
</g>
<path d="M1472.6 921.17h15.5M2460.3 921.17h-15.5M1472.6 909.91h15.5M2460.3 909.91h-15.5M1472.6 901.18h15.5M2460.3 901.18h-15.5M1472.6 894.04h15.5M2460.3 894.04h-15.5M1472.6 888.01h15.5M2460.3 888.01h-15.5M1472.6 882.78h15.5M2460.3 882.78h-15.5M1472.6 878.17h15.5M2460.3 878.17h-15.5M1472.6 874.05h31M2460.3 874.05h-31M1472.6 846.92h15.5M2460.3 846.92h-15.5M1472.6 831.05h15.5M2460.3 831.05h-15.5M1472.6 819.79h15.5M2460.3 819.79h-15.5M1472.6 811.06h15.5M2460.3 811.06h-15.5M1472.6 803.92h15.5M2460.3 803.92h-15.5M1472.6 797.89h15.5M2460.3 797.89h-15.5M1472.6 792.66h15.5M2460.3 792.66h-15.5M1472.6 788.05h15.5M2460.3 788.05h-15.5M1472.6 783.93h31M2460.3 783.93h-31M1472.6 756.8h15.5M2460.3 756.8h-15.5M1472.6 740.93h15.5M2460.3 740.93h-15.5M1472.6 729.67h15.5M2460.3 729.67h-15.5M1472.6 720.94h15.5M2460.3 720.94h-15.5M1472.6 713.8h15.5M2460.3 713.8h-15.5M1472.6 707.77h15.5M2460.3 707.77h-15.5M1472.6 702.54h15.5M2460.3 702.54h-15.5M1472.6 697.93h15.5M2460.3 697.93h-15.5M1472.6 693.81h31M2460.3 693.81h-31M1472.6 666.68h15.5M2460.3 666.68h-15.5M1472.6 650.81h15.5M2460.3 650.81h-15.5M1472.6 639.55h15.5M2460.3 639.55h-15.5M1472.6 630.82h15.5M2460.3 630.82h-15.5M1472.6 623.68h15.5M2460.3 623.68h-15.5M1472.6 617.65h15.5M2460.3 617.65h-15.5M1472.6 612.42h15.5M2460.3 612.42h-15.5M1472.6 607.81h15.5M2460.3 607.81h-15.5M1472.6 603.69h31M2460.3 603.69h-31M1472.6 576.56h15.5M2460.3 576.56h-15.5M1472.6 560.69h15.5M2460.3 560.69h-15.5M1472.6 549.43h15.5M2460.3 549.43h-15.5M1472.6 540.7h15.5M2460.3 540.7h-15.5M1472.6 533.56h15.5M2460.3 533.56h-15.5M1472.6 527.53h15.5M2460.3 527.53h-15.5M1472.6 522.3h15.5M2460.3 522.3h-15.5M1472.6 517.69h15.5M2460.3 517.69h-15.5M1472.6 513.57h31M2460.3 513.57h-31M1472.6 486.44h15.5M2460.3 486.44h-15.5M1472.6 470.57h15.5M2460.3 470.57h-15.5M1472.6 459.31h15.5M2460.3 459.31h-15.5M1472.6 450.58h15.5M2460.3 450.58h-15.5M1472.6 443.44h15.5M2460.3 443.44h-15.5M1472.6 437.41h15.5M2460.3 437.41h-15.5M1472.6 432.18h15.5M2460.3 432.18h-15.5M1472.6 427.57h15.5M2460.3 427.57h-15.5M1472.6 423.45h31M2460.3 423.45h-31M1472.6 396.32h15.5M2460.3 396.32h-15.5M1472.6 380.45h15.5M2460.3 380.45h-15.5M1472.6 369.19h15.5M2460.3 369.19h-15.5M1472.6 360.46h15.5M2460.3 360.46h-15.5M1472.6 353.32h15.5M2460.3 353.32h-15.5M1472.6 347.29h15.5M2460.3 347.29h-15.5M1472.6 342.06h15.5M2460.3 342.06h-15.5M1472.6 337.45h15.5M2460.3 337.45h-15.5M1472.6 333.33h31M2460.3 333.33h-31M1472.6 306.2h15.5M2460.3 306.2h-15.5M1472.6 290.33h15.5M2460.3 290.33h-15.5M1472.6 279.07h15.5M2460.3 279.07h-15.5M1472.6 270.34h15.5M2460.3 270.34h-15.5M1472.6 263.2h15.5M2460.3 263.2h-15.5M1472.6 257.17h15.5M2460.3 257.17h-15.5M1472.6 251.94h15.5M2460.3 251.94h-15.5M1472.6 247.33h15.5M2460.3 247.33h-15.5M1472.6 243.21h31M2460.3 243.21h-31M1472.6 216.08h15.5M2460.3 216.08h-15.5M1472.6 200.21h15.5M2460.3 200.21h-15.5M1472.6 188.95h15.5M2460.3 188.95h-15.5M1472.6 180.22h15.5M2460.3 180.22h-15.5M1472.6 173.08h15.5M2460.3 173.08h-15.5M1472.6 167.05h15.5M2460.3 167.05h-15.5M1472.6 161.82h15.5M2460.3 161.82h-15.5M1472.6 157.21h15.5M2460.3 157.21h-15.5M1472.6 153.09h31M2460.3 153.09h-31M1472.6 125.96h15.5M2460.3 125.96h-15.5M1507.59 933.3v-10.5M1507.59 117.2v10.5M1542.87 933.3v-10.5M1542.87 117.2v10.5M1578.16 933.3v-22M1578.16 117.2v22M1613.44 933.3v-10.5M1613.44 117.2v10.5M1648.73 933.3v-10.5M1648.73 117.2v10.5M1684.01 933.3v-10.5M1684.01 117.2v10.5M1719.3 933.3v-10.5M1719.3 117.2v10.5M1754.59 933.3v-22M1754.59 117.2v22M1789.87 933.3v-10.5M1789.87 117.2v10.5M1825.16 933.3v-10.5M1825.16 117.2v10.5M1860.44 933.3v-10.5M1860.44 117.2v10.5M1895.73 933.3v-10.5M1895.73 117.2v10.5M1931.01 933.3v-22M1931.01 117.2v22M1966.3 933.3v-10.5M1966.3 117.2v10.5M2001.59 933.3v-10.5M2001.59 117.2v10.5M2036.87 933.3v-10.5M2036.87 117.2v10.5M2072.16 933.3v-10.5M2072.16 117.2v10.5M2107.44 933.3v-22M2107.44 117.2v22M2142.73 933.3v-10.5M2142.73 117.2v10.5M2178.01 933.3v-10.5M2178.01 117.2v10.5M2213.3 933.3v-10.5M2213.3 117.2v10.5M2248.59 933.3v-10.5M2248.59 117.2v10.5M2283.87 933.3v-22M2283.87 117.2v22M2319.16 933.3v-10.5M2319.16 117.2v10.5M2354.44 933.3v-10.5M2354.44 117.2v10.5M2389.73 933.3v-10.5M2389.73 117.2v10.5M2425.01 933.3v-10.5M2425.01 117.2v10.5" stroke="#000" stroke-width="2" fill="none"/>
<path d="M1472.6 934.35V116.15" fill="none" stroke="#000" stroke-width="2.3"/><path d="M2460.3 934.35V116.15" fill="none" stroke="#000" stroke-width="2"/><path d="M1471.45 117.2H2461.3" fill="none" stroke="#000" stroke-width="2.1"/><path d="M1471.45 933.3H2461.3" fill="none" stroke="#000" stroke-width="2.1"/>
<g clip-path="url(#clipsR)" fill="none">
<path d="M1472.3 539.4L1489.94 539.4L1489.94 542.1L1507.59 542.1L1507.59 542.4L1542.87 542.4L1542.87 542.1L1560.51 542.1L1560.51 538.8L1613.44 538.8L1613.44 538.3L1648.73 538.3L1648.73 534.6L1701.66 534.6L1701.66 529L1754.59 529L1754.59 524.4L1825.16 524.4L1825.16 518.7L1931.01 518.7L1931.01 509.3L2036.87 509.3L2036.87 592L2283.87 592L2283.87 796.8L2460.3 796.8L2460.3 879" stroke="#006400" stroke-width="3.6"/>
<path d="M1472.3 612.1L1489.94 612.1L1489.94 616L1507.59 616L1507.59 619.5L1525.23 619.5L1525.23 622.6L1542.87 622.6L1542.87 629.2L1560.51 629.2L1560.51 631.1L1578.16 631.1L1578.16 638.5L1613.44 638.5L1613.44 647L1648.73 647L1648.73 655.5L1701.66 655.5L1701.66 663.7L1754.59 663.7L1754.59 671.8L1825.16 671.8L1825.16 675.7L2036.87 675.7L2036.87 671L2283.87 671L2283.87 675L2460.3 675L2460.3 760.6" stroke="#990099" stroke-width="3.6"/>
</g>
<path d="M1578.16 415.9H1613.44M1613.44 452H1648.73M1648.73 485.1H1701.66M1701.66 524H1754.59M1789.87 554.2V578.5M1754.59 564.2H1825.16M1878.09 612.9V664.5M1825.16 631.1H1931.01M1983.94 625.7V694.3M1931.01 647H2036.87" stroke="#000" stroke-width="1.8" fill="none"/>
<g fill="#000"><circle cx="1481.12" cy="246" r="8"/><circle cx="1498.76" cy="284.5" r="8"/><circle cx="1516.41" cy="317.5" r="8"/><circle cx="1534.05" cy="342.8" r="8"/><circle cx="1551.69" cy="367" r="8"/><circle cx="1569.34" cy="393.8" r="8"/><circle cx="1595.8" cy="415.9" r="8"/><circle cx="1631.09" cy="452" r="8"/><circle cx="1675.19" cy="485.1" r="8"/><circle cx="1728.12" cy="524" r="8"/><circle cx="1789.87" cy="564.2" r="8"/><circle cx="1878.09" cy="631.1" r="8"/><circle cx="1983.94" cy="647" r="8"/></g>
<clipPath id="cliprR"><rect x="1472.6" y="978.2" width="987.7" height="198.2"/></clipPath>
<g clip-path="url(#cliprR)">
<path d="M1472.3 1072.84H1490.24V1081.76H1472.3ZM1489.94 1072.84H1507.89V1081.76H1489.94ZM1507.59 1072.84H1525.53V1081.76H1507.59ZM1525.23 1072.84H1543.17V1081.76H1525.23ZM1542.87 1070.86H1560.81V1083.74H1542.87ZM1560.51 1068.38H1578.46V1086.22H1560.51ZM1578.16 1067.39H1613.74V1087.71H1578.16ZM1613.44 1066.1H1649.03V1088.7H1613.44ZM1648.73 1064.71H1701.96V1089.89H1648.73ZM1701.66 1064.12H1754.89V1094.94H1701.66ZM1754.59 1054.51H1825.46V1094.15H1754.59ZM1825.16 1049.55H1931.31V1110.3H1825.16ZM1931.01 1017.15H2037.17V1165.2H1931.01ZM2036.87 1033.89H2284.17V1115.65H2036.87ZM2283.87 1018.24H2460.6V1172.44H2283.87Z" fill="#d6d6d6"/>
<path d="M1472.6 1126.85H2460.3" stroke="#000" stroke-width="2.0" stroke-dasharray="2 4.6" fill="none"/>
<path d="M1472.6 1077.3H2460.3" stroke="#000" stroke-width="2.0" stroke-dasharray="2 4.6" fill="none"/>
<path d="M1472.6 1027.75H2460.3" stroke="#000" stroke-width="2.0" stroke-dasharray="2 4.6" fill="none"/>
</g>
<path d="M1472.6 1151.62h12M2460.3 1151.62h-12M1472.6 1126.85h23M2460.3 1126.85h-23M1472.6 1102.08h12M2460.3 1102.08h-12M1472.6 1077.3h23M2460.3 1077.3h-23M1472.6 1052.53h12M2460.3 1052.53h-12M1472.6 1027.75h23M2460.3 1027.75h-23M1472.6 1002.98h12M2460.3 1002.98h-12M1507.59 1176.4v-8.7M1507.59 978.2v8.7M1542.87 1176.4v-8.7M1542.87 978.2v8.7M1578.16 1176.4v-17M1578.16 978.2v17M1613.44 1176.4v-8.7M1613.44 978.2v8.7M1648.73 1176.4v-8.7M1648.73 978.2v8.7M1684.01 1176.4v-8.7M1684.01 978.2v8.7M1719.3 1176.4v-8.7M1719.3 978.2v8.7M1754.59 1176.4v-17M1754.59 978.2v17M1789.87 1176.4v-8.7M1789.87 978.2v8.7M1825.16 1176.4v-8.7M1825.16 978.2v8.7M1860.44 1176.4v-8.7M1860.44 978.2v8.7M1895.73 1176.4v-8.7M1895.73 978.2v8.7M1931.01 1176.4v-17M1931.01 978.2v17M1966.3 1176.4v-8.7M1966.3 978.2v8.7M2001.59 1176.4v-8.7M2001.59 978.2v8.7M2036.87 1176.4v-8.7M2036.87 978.2v8.7M2072.16 1176.4v-8.7M2072.16 978.2v8.7M2107.44 1176.4v-17M2107.44 978.2v17M2142.73 1176.4v-8.7M2142.73 978.2v8.7M2178.01 1176.4v-8.7M2178.01 978.2v8.7M2213.3 1176.4v-8.7M2213.3 978.2v8.7M2248.59 1176.4v-8.7M2248.59 978.2v8.7M2283.87 1176.4v-17M2283.87 978.2v17M2319.16 1176.4v-8.7M2319.16 978.2v8.7M2354.44 1176.4v-8.7M2354.44 978.2v8.7M2389.73 1176.4v-8.7M2389.73 978.2v8.7M2425.01 1176.4v-8.7M2425.01 978.2v8.7" stroke="#000" stroke-width="2" fill="none"/>
<g clip-path="url(#cliprR)">
<path d="M1472.3 1081.46H1489.94M1489.94 1083.74H1507.59M1507.59 1086.52H1525.23M1525.23 1081.46H1542.87M1542.87 1079.28H1560.51M1560.51 1092.46H1578.16M1595.8 1069.77V1082.26M1578.16 1075.91H1613.44M1631.09 1062.73V1084.24M1613.44 1073.34H1648.73M1675.19 1045.09V1075.32M1648.73 1060.25H1701.66M1728.12 1026.36V1078.29M1701.66 1052.13H1754.59M1789.87 991.38V1077.3M1754.59 1034.49H1825.16M1878.09 1026.36V1136.96M1825.16 1081.76H1931.01M1983.94 968.29V1104.75" stroke="#000" stroke-width="1.8" fill="none"/>
<g fill="#000"><circle cx="1481.12" cy="1081.46" r="5.5"/><circle cx="1498.76" cy="1083.74" r="5.5"/><circle cx="1516.41" cy="1086.52" r="5.5"/><circle cx="1534.05" cy="1081.46" r="5.5"/><circle cx="1551.69" cy="1079.28" r="5.5"/><circle cx="1569.34" cy="1092.46" r="5.5"/><circle cx="1595.8" cy="1075.91" r="5.5"/><circle cx="1631.09" cy="1073.34" r="5.5"/><circle cx="1675.19" cy="1060.25" r="5.5"/><circle cx="1728.12" cy="1052.13" r="5.5"/><circle cx="1789.87" cy="1034.49" r="5.5"/><circle cx="1878.09" cy="1081.76" r="5.5"/></g>
</g>
<rect x="1472.6" y="978.2" width="987.7" height="198.2" fill="none" stroke="#000" stroke-width="2.2"/>
<rect x="1949.9" y="164.5" width="42.7" height="43.4" rx="1.5" fill="#3f90da" stroke="#000" stroke-width="1.7"/>
<rect x="2196.4" y="164.5" width="43" height="43.4" rx="1.5" fill="#832db6" stroke="#000" stroke-width="1.7"/>
<rect x="1703.4" y="225.5" width="42.6" height="43.5" rx="1.5" fill="#bd1f01" stroke="#000" stroke-width="1.7"/>
<rect x="1949.9" y="225.5" width="42.7" height="43.5" rx="1.5" fill="#a96b59" stroke="#000" stroke-width="1.7"/>
<rect x="2196.4" y="225.5" width="43" height="43.5" rx="1.5" fill="#ffa90e" stroke="#000" stroke-width="1.7"/>
<rect x="2198.1" y="288.2" width="39.8" height="40.5" fill="#d6d6d6"/>
<path d="M1703.3 309H1745.9" stroke="#006400" stroke-width="3.6"/>
<path d="M1950 309H1992.3" stroke="#990099" stroke-width="3.6"/>
<path d="M1724.6 167.9V204.7M1703.3 186.3H1745.9" stroke="#000" stroke-width="1.8"/><circle cx="1724.6" cy="186.3" r="7.6"/>
<text transform="translate(1389.7 891.65) scale(0.9569 1)" font-size="39.5">10<tspan font-size="26.12" dy="-18.3">−5</tspan></text>
<text transform="translate(1389.38 801.53) scale(0.9569 1)" font-size="39.5">10<tspan font-size="26.12" dy="-18.3">−4</tspan></text>
<text transform="translate(1389.75 711.41) scale(0.9569 1)" font-size="39.5">10<tspan font-size="26.12" dy="-18.3">−3</tspan></text>
<text transform="translate(1389.91 621.29) scale(0.9569 1)" font-size="39.5">10<tspan font-size="26.12" dy="-18.3">−2</tspan></text>
<text transform="translate(1389.87 531.17) scale(0.9569 1)" font-size="39.5">10<tspan font-size="26.12" dy="-18.3">−1</tspan></text>
<text transform="translate(1441.22 437.45) scale(0.9569 1)" font-size="39.5">1</text>
<text transform="translate(1418.63 347.33) scale(0.9569 1)" font-size="39.5">10</text>
<text transform="translate(1404.51 260.81) scale(0.9569 1)" font-size="39.5">10<tspan font-size="26.12" dy="-18.3">2</tspan></text>
<text transform="translate(1404.35 170.69) scale(0.9569 1)" font-size="39.5">10<tspan font-size="26.12" dy="-18.3">3</tspan></text>
<text transform="translate(1361.2 477.35) rotate(-90) scale(0.9569 1)" font-size="49.87">&lt; Events / GeV &gt;</text>
<text transform="translate(1446.18 1187.8) scale(0.9569 1)" font-size="34.8">0</text>
<text transform="translate(1418.51 1138.25) scale(0.9569 1)" font-size="34.8">0.5</text>
<text transform="translate(1447.51 1088.7) scale(0.9569 1)" font-size="34.8">1</text>
<text transform="translate(1418.51 1039.15) scale(0.9569 1)" font-size="34.8">1.5</text>
<text transform="translate(1446.55 989.6) scale(0.9569 1)" font-size="34.8">2</text>
<text transform="translate(1533.22 1210.7) scale(0.9569 1)" font-size="41.8">1000</text>
<text transform="translate(1710.17 1210.7) scale(0.9569 1)" font-size="41.8">2000</text>
<text transform="translate(1886.84 1210.7) scale(0.9569 1)" font-size="41.8">3000</text>
<text transform="translate(2063.57 1210.7) scale(0.9569 1)" font-size="41.8">4000</text>
<text transform="translate(2239.66 1210.7) scale(0.9569 1)" font-size="41.8">5000</text>
<text transform="translate(2415.87 1210.7) scale(0.9569 1)" font-size="41.8">6000</text>
<text transform="translate(1379.7 1164.45) rotate(-90) scale(0.9569 1)" font-size="41.46">Data / MC</text>
<text transform="translate(2277.16 1272.6) scale(0.9569 1)" font-size="47.9">m<tspan font-size="30.65" dy="12.5">T</tspan><tspan dy="-12.5"> [GeV]</tspan></text>
<text transform="translate(1470.86 95.8) scale(0.9434 1)" font-size="52.75"><tspan font-weight="bold">CMS</tspan></text>
<text transform="translate(1595.33 95.8) scale(0.9569 1)" font-size="39.67"><tspan font-style="italic">Preliminary</tspan></text>
<text transform="translate(2137.3 95.8) scale(0.9569 1)" font-size="39.03">62 fb<tspan font-size="25.76" dy="-17.2">-1</tspan><tspan dy="17.2">  (13.6 TeV)</tspan></text>
<text transform="translate(1752.3 196.8) scale(0.9569 1)" font-size="28.05">Data</text>
<text transform="translate(1752.89 254.7) scale(0.9569 1)" font-size="28.16">Top</text>
<text transform="translate(2001.78 196.8) scale(0.9569 1)" font-size="27.74">W boson</text>
<text transform="translate(2246.69 196.8) scale(0.9569 1)" font-size="28.1">DiBoson</text>
<text transform="translate(2246.74 257.8) scale(0.9569 1)" font-size="27.86">QCD</text>
<text transform="translate(2246.78 316.2) scale(0.9569 1)" font-size="27.99">Stat. + Syst.</text>
<text transform="translate(1752.35 316.2) scale(0.9569 1)" font-size="27.44">M<tspan font-size="17.97" dy="6.5">W'</tspan><tspan dy="-6.5"> = 3.6 TeV</tspan></text>
<text transform="translate(2000.44 316.2) scale(0.9569 1)" font-size="27.47">M<tspan font-size="18" dy="6.5">W'</tspan><tspan dy="-6.5"> = 5.6 TeV</tspan></text>
<text transform="translate(2001.04 254.7) scale(0.9569 1)" font-size="28.27">Z/<tspan font-family="'Liberation Serif', 'DejaVu Serif', serif" font-size="29.68">γ</tspan>* <tspan font-family="'DejaVu Sans', 'Liberation Sans', sans-serif" font-weight="200" font-size="33.92" dy="3.6">→</tspan><tspan dy="-3.6"> ll</tspan></text>
<text transform="translate(2172.85 436.7) scale(1.1905 1)" font-size="44.02"><tspan font-family="'Liberation Serif', 'DejaVu Serif', serif">μ</tspan></text>
<text transform="translate(2210.6 440.2) scale(1.0000 1)" font-size="38.09"><tspan font-weight="bold">+</tspan></text>
<text transform="translate(2244.47 436.7) scale(0.9709 1)" font-size="42.72"><tspan font-weight="bold">p</tspan></text>
<text transform="translate(2268.52 417.8) scale(0.9709 1)" font-size="27.78"><tspan font-weight="bold">miss</tspan></text>
<text transform="translate(2268.8 455.7) scale(0.9524 1)" font-size="27.99"><tspan font-weight="bold">T</tspan></text>
</svg>
</body></html>
